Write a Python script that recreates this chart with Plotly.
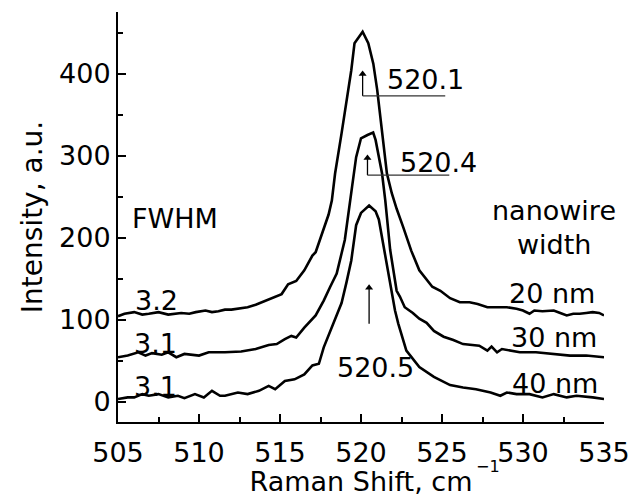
import plotly.graph_objects as go

# Raman spectra of Si nanowires of three widths (offset vertically)
shift_20nm = [505.0, 505.4, 506.0, 506.5, 506.9, 507.5, 508.1, 508.5, 508.9, 509.4, 509.8,
              510.4, 510.8, 511.2, 511.6, 512.0, 512.4, 513.0, 513.5, 514.0, 514.3, 514.7,
              515.1, 515.5, 516.0, 516.5, 517.0, 517.2, 517.6, 518.0, 518.2, 518.4, 518.8,
              519.2, 519.4, 519.6, 520.1, 520.45, 520.76, 521.0, 521.3, 521.6, 521.9, 522.2,
              522.6, 523.1, 523.6, 524.0, 524.4, 524.9, 525.5, 526.1, 526.7, 527.2, 527.8,
              528.4, 529.0, 529.6, 530.0, 530.4, 530.7, 531.2, 531.9, 532.3, 532.7, 533.1,
              533.5, 533.9, 534.3, 534.7, 535.0]
intensity_20nm = [104, 107, 109, 106, 107, 109, 106, 107, 108, 107, 109,
                  111, 109, 110, 112, 112, 113, 115, 118, 122, 125, 128,
                  131, 143, 147, 160, 178, 182, 204, 228, 245, 278, 327,
                  380, 404, 437, 451, 437, 412, 380, 327, 278, 254, 235,
                  213, 184, 160, 150, 140, 135, 126, 121, 121, 119, 115,
                  115, 115, 113, 111, 107, 111, 110, 111, 108, 105, 107,
                  107, 108, 109, 108, 105]

shift_30nm = [505.0, 505.6, 506.25, 506.7, 507.1, 507.7, 508.1, 508.6, 509.1, 510.0, 510.6,
              511.6, 512.6, 513.5, 514.3, 514.8, 515.3, 515.7, 516.0, 516.5, 517.2, 517.7,
              518.1, 518.5, 519.0, 519.3, 519.45, 519.7, 520.0, 520.4, 520.75, 520.9, 521.1,
              521.3, 521.5, 521.65, 521.8, 522.2, 522.4, 522.7, 523.2, 523.6, 524.05, 524.5,
              525.1, 525.7, 526.3, 527.3, 527.8, 528.06, 528.4, 528.7, 529.8, 530.8, 531.9,
              532.9, 533.9, 535.0]
intensity_30nm = [54, 56, 60, 56, 59, 57, 60, 54, 58, 56, 60,
                  60, 61, 64, 69, 70, 76, 80, 78, 90, 105, 123,
                  140, 156, 197, 245, 262, 298, 321, 325, 328, 319, 300,
                  278, 245, 215, 185, 135, 128, 115, 108, 101, 96, 86,
                  79, 75, 70, 68, 62, 67, 60, 64, 60, 60, 58,
                  56, 56, 54]

shift_40nm = [505.0, 505.6, 506.0, 506.5, 506.9, 507.5, 508.1, 508.7, 509.1, 509.75, 510.3,
              510.8, 511.3, 511.6, 512.4, 513.0, 513.7, 514.3, 514.7, 515.3, 515.9, 516.5,
              517.0, 517.4, 517.7, 518.2, 518.5, 518.8, 519.1, 519.4, 519.7, 520.0, 520.5,
              520.9, 521.1, 521.3, 521.6, 521.9, 522.1, 522.3, 522.8, 523.6, 524.5, 525.5,
              526.3, 527.1, 528.0, 528.6, 529.0, 529.6, 530.4, 531.2, 531.9, 532.7, 533.3,
              534.3, 535.0]
intensity_40nm = [3, 5, 5, 9, 7, 9, 5, 7, 4, 9, 5,
                  13, 7, 7, 11, 9, 13, 19, 15, 25, 27, 33,
                  44, 46, 66, 90, 105, 120, 145, 172, 215, 230, 239,
                  232, 222, 200, 164, 131, 111, 95, 62, 42, 30, 20,
                  17, 15, 11, 7, 11, 9, 9, 5, 9, 5, 7,
                  5, 3]

# Peak positions (cm^-1) with arrow spans, leader lines and label placement
peak_pos = [520.1, 520.4, 520.5]
peak_arrow_tail = [372.7, 276.0, 94.7]
peak_arrow_head = [404.5, 302.0, 143.6]
peak_leader_end = [525.2, 525.45, None]
peak_label_xy = [(521.48, 393.0), (522.28, 292.0), (518.4, 41.6)]

fwhm_labels = ["3.2", "3.1", "3.1"]
fwhm_label_xy = [(507.4, 123.0), (507.3, 71.0), (507.3, 18.0)]

width_labels = ["20 nm", "30 nm", "40 nm"]
width_label_xy = [(531.8, 132.0), (531.9, 78.0), (532.0, 21.6)]

FONT = "DejaVu Sans"
TXT = dict(family=FONT, size=27, color="black")
YTITLE = dict(family=FONT, size=28, color="black")

fig = go.Figure()
for xs, ys in [(shift_20nm, intensity_20nm), (shift_30nm, intensity_30nm),
               (shift_40nm, intensity_40nm)]:
    fig.add_trace(go.Scatter(x=xs, y=ys, mode="lines",
                             line=dict(color="black", width=2.6),
                             showlegend=False, hoverinfo="skip"))

annotations = []
shapes = []
for pos, tail, head, lead, (lx, ly) in zip(peak_pos, peak_arrow_tail, peak_arrow_head,
                                           peak_leader_end, peak_label_xy):
    # arrow shaft and head
    fig.add_trace(go.Scatter(x=[pos, pos], y=[tail, head - 6], mode="lines",
                             line=dict(color="black", width=1.3),
                             showlegend=False, hoverinfo="skip"))
    fig.add_trace(go.Scatter(x=[pos], y=[head - 5], mode="markers",
                             marker=dict(symbol="triangle-up", size=7, color="black",
                                         line=dict(width=0)),
                             showlegend=False, hoverinfo="skip"))
    if lead is not None:
        shapes.append(dict(type="line", xref="x", yref="y", x0=pos, x1=lead, y0=tail, y1=tail,
                           line=dict(color="#333333", width=1.2)))
    annotations.append(dict(x=lx, y=ly, xref="x", yref="y", text=f"{pos:.1f}",
                            showarrow=False, xanchor="left", yanchor="middle", font=TXT))

for txt, (lx, ly) in zip(fwhm_labels, fwhm_label_xy):
    annotations.append(dict(x=lx, y=ly, xref="x", yref="y", text=txt, showarrow=False,
                            xanchor="center", yanchor="middle", font=TXT))
for txt, (lx, ly) in zip(width_labels, width_label_xy):
    annotations.append(dict(x=lx, y=ly, xref="x", yref="y", text=txt, showarrow=False,
                            xanchor="center", yanchor="middle", font=TXT))

annotations.append(dict(x=505.74, y=223.5, xref="x", yref="y", text="FWHM", showarrow=False,
                        xanchor="left", yanchor="middle", font=TXT))
annotations.append(dict(x=531.9, y=232.7, xref="x", yref="y", text="nanowire", showarrow=False,
                        xanchor="center", yanchor="middle", font=TXT))
annotations.append(dict(x=531.9, y=191.7, xref="x", yref="y", text="width", showarrow=False,
                        xanchor="center", yanchor="middle", font=TXT))

# exponent of the x-axis unit, set just after "cm"
annotations.append(dict(x=(474 - 118) / 486, y=(422 - 466) / 410, xref="paper", yref="paper",
                        text="\u22121", showarrow=False, xanchor="left", yanchor="middle",
                        font=dict(family=FONT, size=16, color="black")))

axis_common = dict(showline=True, linewidth=2, linecolor="black", mirror=False,
                   showgrid=False, zeroline=False, ticks="inside", ticklen=8, tickwidth=2,
                   tickcolor="black", tickfont=TXT, automargin=False)

fig.update_layout(
    template="none",
    width=634, height=497,
    margin=dict(l=118, r=30, t=12, b=75),
    paper_bgcolor="white", plot_bgcolor="white",
    annotations=annotations, shapes=shapes, showlegend=False,
    xaxis=dict(range=[505, 535], tick0=505, dtick=5, ticklabelstandoff=6,
               minor=dict(ticks="inside", ticklen=5, tickwidth=1.5, tickcolor="black",
                          dtick=2.5, showgrid=False),
               title=dict(text="Raman Shift, cm", standoff=0, font=TXT),
               **axis_common),
    yaxis=dict(range=[-25, 475], tickvals=[0, 100, 200, 300, 400],
               minor=dict(ticks="inside", ticklen=5, tickwidth=1.5, tickcolor="black",
                          tickvals=[50, 150, 250, 350, 450], showgrid=False),
               title=dict(text="Intensity, a.u.", standoff=8, font=YTITLE),
               **axis_common),
)

fig.write_html("out.html")
